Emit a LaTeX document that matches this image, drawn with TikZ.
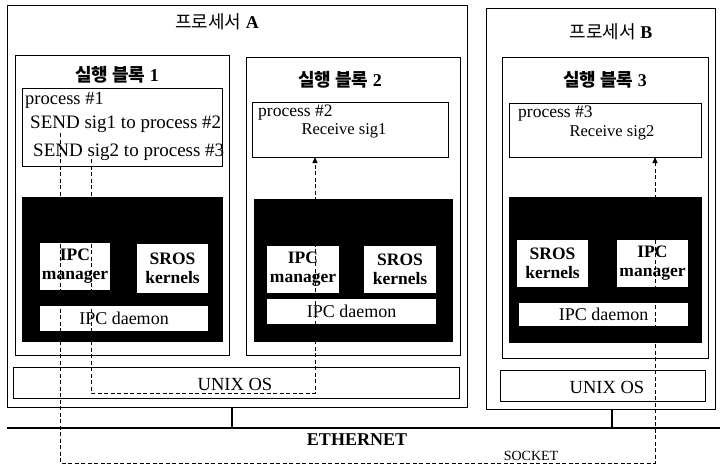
\documentclass[tikz,border=0pt]{standalone}
\usepackage{fontspec}
\setmainfont{Liberation Serif}
\newfontfamily\kr{Noto Sans CJK KR}
\usetikzlibrary{arrows.meta}
\begin{document}
\begin{tikzpicture}[x=1pt,y=-1pt,
  frame/.style={draw, line width=1pt, inner sep=0pt, outer sep=0pt, anchor=north west},
  blk/.style={draw, line width=1pt, fill=black, inner sep=0pt, outer sep=0pt, anchor=north west},
  wbox/.style={fill=white, inner sep=0pt, outer sep=0pt, anchor=north west, align=center,
               font=\fontsize{17.5}{19}\selectfont\bfseries},
  dbox/.style={fill=white, inner sep=0pt, outer sep=0pt, anchor=north west, align=center,
               font=\fontsize{18}{19}\selectfont},
  lbl/.style={inner sep=0pt, anchor=west, font=\fontsize{19}{20}\selectfont},
  rlbl/.style={inner sep=0pt, font=\fontsize{16.5}{20}\selectfont},
  ttl/.style={inner sep=0pt, font=\fontsize{18}{20}\selectfont},
  sig/.style={line width=0.9pt, dash pattern=on 4pt off 2.5pt},
  arr/.style={-{Triangle[length=6pt,width=5pt]}},
  bus/.style={line width=1.8pt},
  tap/.style={line width=1.3pt}
]
\useasboundingbox (0,0) rectangle (720,469);

% processors
\node[frame, minimum width=460pt, minimum height=402pt] (A) at (7,5) {};
\node[frame, minimum width=229pt, minimum height=401pt] (B) at (486,8) {};
\node[ttl] (tA) at (217,22) {{\kr 프로세서} {\bfseries A}};
\node[ttl] (tB) at (611,32) {{\kr 프로세서} {\bfseries B}};

% execution blocks
\node[frame, minimum width=214pt, minimum height=300pt] (E1) at (15,55) {};
\node[frame, minimum width=214pt, minimum height=298pt] (E2) at (246,57) {};
\node[frame, minimum width=206pt, minimum height=301pt] (E3) at (502,57) {};
\node[ttl] (tE1) at (117,75) {{\kr\bfseries 실행 블록} {\bfseries 1}};
\node[ttl] (tE2) at (340,80) {{\kr\bfseries 실행 블록} {\bfseries 2}};
\node[ttl] (tE3) at (605,80) {{\kr\bfseries 실행 블록} {\bfseries 3}};

% process boxes
\node[frame, minimum width=200pt, minimum height=78pt] (P1) at (22,88) {};
\node[frame, minimum width=196pt, minimum height=55pt] (P2) at (252,102) {};
\node[frame, minimum width=192pt, minimum height=54pt] (P3) at (509,103) {};
\node[lbl, font=\fontsize{18.5}{20}\selectfont] (p1a) at (25,100) {process \#1};
\node[lbl] (p1b) at (30,124) {SEND sig1 to process \#2};
\node[lbl] (p1c) at (33,152) {SEND sig2 to process \#3};
\node[lbl, font=\fontsize{17.5}{20}\selectfont] (p2a) at (258,113) {process \#2};
\node[rlbl] (p2b) at (344,131) {Receive sig1};
\node[lbl, font=\fontsize{17.5}{20}\selectfont] (p3a) at (518,114) {process \#3};
\node[rlbl] (p3b) at (612,133) {Receive sig2};

% kernel areas
\node[blk, minimum width=200pt, minimum height=144pt] (K1) at (22,197) {};
\node[blk, minimum width=198pt, minimum height=142pt] (K2) at (254,199) {};
\node[blk, minimum width=192pt, minimum height=145pt] (K3) at (509,197) {};

\node[wbox, minimum width=70pt, minimum height=47pt] (M1) at (40,243) {IPC\\manager};
\node[wbox, minimum width=71pt, minimum height=49pt] (S1) at (137,244) {SROS\\kernels};
\node[dbox, minimum width=168pt, minimum height=25pt] (D1) at (40,306) {IPC daemon};
\node[wbox, minimum width=72pt, minimum height=47pt] (M2) at (267,246) {IPC\\manager};
\node[wbox, minimum width=72pt, minimum height=47pt] (S2) at (364,246) {SROS\\kernels};
\node[dbox, minimum width=169pt, minimum height=25pt] (D2) at (267,299) {IPC daemon};
\node[wbox, minimum width=71pt, minimum height=47pt] (S3) at (517,240) {SROS\\kernels};
\node[wbox, minimum width=71pt, minimum height=47pt] (M3) at (617,240) {IPC\\manager};
\node[dbox, minimum width=169pt, minimum height=23pt] (D3) at (519,303) {IPC daemon};

% UNIX OS
\node[frame, minimum width=446pt, minimum height=31pt] (UA) at (13,367) {};
\node[frame, minimum width=205pt, minimum height=31pt] (UB) at (500,370) {};
\node[ttl, font=\fontsize{18.5}{20}\selectfont] (uA) at (235,384) {UNIX OS};
\node[ttl, font=\fontsize{18.5}{20}\selectfont] (uB) at (607,387) {UNIX OS};

% ethernet
\coordinate (ethL) at (7,428);
\coordinate (ethR) at (720,428);
\draw[bus] (ethL) -- (ethR);
\coordinate (tapA) at (232,428);
\coordinate (tapB) at (612,428);
\draw[tap] (A.south -| tapA) -- (tapA);
\draw[tap] (B.south -| tapB) -- (tapB);
\node[inner sep=0pt, font=\fontsize{18}{20}\selectfont\bfseries] (eth) at (357,440) {ETHERNET};
\node[inner sep=0pt, font=\fontsize{14}{16}\selectfont] (sock) at (531,456) {SOCKET};

% signal paths
\coordinate (s1) at (60,133);
\coordinate (c1) at (655,463);
\coordinate (s2) at (91,159);
\coordinate (c2) at (315,393);
\draw[sig, arr] (s1) |- (c1) -- (c1 |- P3.south);
\draw[sig, arr] (s2) |- (c2) -- (c2 |- P2.south);
\end{tikzpicture}
\end{document}
